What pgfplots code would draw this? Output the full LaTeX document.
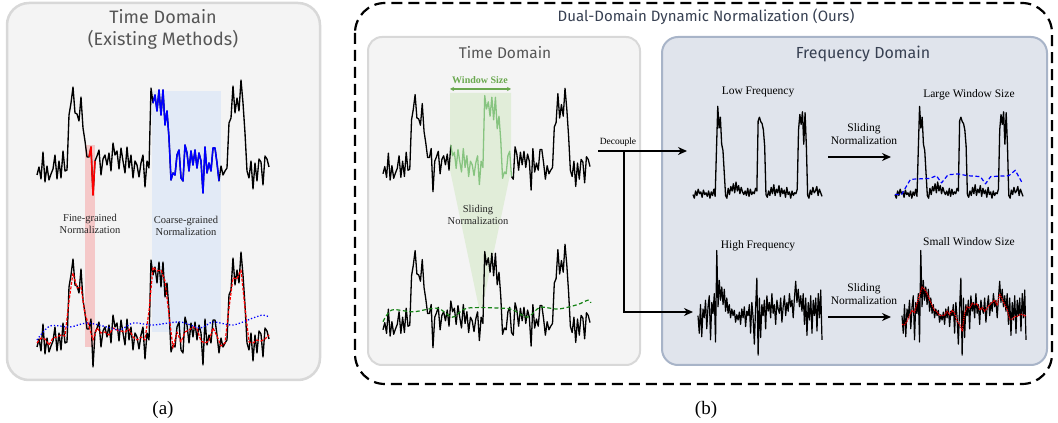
\documentclass[border=0pt]{standalone}
\usepackage{pgfplots}
\pgfplotsset{compat=1.18}
\usepackage{pgfplotstable}
\usepackage{fontspec}
\setmainfont{Liberation Serif}
\newfontfamily\titlefont{Fira Sans}
\usetikzlibrary{arrows.meta}

\definecolor{boxgray}{RGB}{244,244,244}
\definecolor{boxline}{RGB}{216,216,216}
\definecolor{freqfill}{RGB}{224,228,236}
\definecolor{freqline}{RGB}{168,180,200}
\definecolor{titlegray}{RGB}{85,85,85}
\definecolor{titledark}{RGB}{55,64,82}
\definecolor{redband}{RGB}{245,200,200}
\definecolor{blueband}{RGB}{226,234,246}
\definecolor{winfill}{RGB}{225,237,217}
\definecolor{wingreen}{RGB}{135,196,128}
\definecolor{wintext}{RGB}{106,168,79}
\definecolor{dgreen}{RGB}{20,130,20}

% time-domain signal (index, value)
\pgfplotstableread[row sep=\\]{i v\\
0 0.08\\ 1 0.16\\ 2 0.04\\ 3 0.31\\ 4 0.01\\ 5 0.17\\ 6 0.03\\ 7 0.09\\ 8 0.14\\ 9 0.28\\
10 0.04\\ 11 0.22\\ 12 0.05\\ 13 0.32\\ 14 0.12\\ 15 0.13\\ 16 0.68\\ 17 0.80\\ 18 0.96\\ 19 0.70\\
20 0.69\\ 21 0.62\\ 22 0.86\\ 23 0.55\\ 24 0.42\\ 25 0.26\\ 26 0.26\\ 27 0.36\\ 28 -0.12\\ 29 0.22\\
30 0.27\\ 31 0.33\\ 32 0.08\\ 33 0.24\\ 34 0.28\\ 35 0.18\\ 36 0.30\\ 37 0.12\\ 38 0.40\\ 39 0.28\\
40 0.32\\ 41 0.14\\ 42 0.35\\ 43 0.22\\ 44 0.10\\ 45 0.36\\ 46 0.15\\ 47 0.28\\ 48 0.05\\ 49 0.22\\
50 0.18\\ 51 0.06\\ 52 0.20\\ 53 0.28\\ 54 -0.04\\ 55 0.22\\ 56 0.15\\ 57 0.95\\ 58 0.80\\ 59 0.88\\
60 0.72\\ 61 0.93\\ 62 0.68\\ 63 0.93\\ 64 0.58\\ 65 0.72\\ 66 0.45\\ 67 0.03\\ 68 0.10\\ 69 0.08\\
70 0.28\\ 71 0.33\\ 72 0.05\\ 73 0.02\\ 74 0.38\\ 75 0.30\\ 76 0.12\\ 77 0.32\\ 78 0.18\\ 79 0.33\\
80 0.15\\ 81 0.30\\ 82 0.22\\ 83 -0.10\\ 84 0.36\\ 85 0.10\\ 86 0.20\\ 87 0.12\\ 88 0.35\\ 89 0.35\\
90 0.20\\ 91 0.02\\ 92 0.17\\ 93 0.08\\ 94 0.12\\ 95 0.15\\ 96 0.60\\ 97 0.65\\ 98 0.97\\ 99 0.70\\
100 0.85\\ 101 0.72\\ 102 1.03\\ 103 0.80\\ 104 0.50\\ 105 0.12\\ 106 0.05\\ 107 0.22\\ 108 -0.06\\ 109 0.20\\
110 0.02\\ 111 0.24\\ 112 0.21\\ 113 -0.02\\ 114 0.27\\ 115 0.24\\ 116 0.16\\
}\tsig

% fine-grained (small window) mean, panel (a)
\pgfplotstableread[row sep=\\]{i v\\
0 0.12\\ 2 0.17\\ 4 0.16\\ 6 0.10\\ 8 0.17\\ 10 0.18\\ 12 0.20\\ 14 0.19\\ 16 0.54\\ 18 0.82\\
20 0.67\\ 22 0.68\\ 24 0.41\\ 26 0.29\\ 28 0.15\\ 30 0.27\\ 32 0.22\\ 34 0.23\\ 36 0.20\\ 38 0.27\\
40 0.25\\ 42 0.24\\ 44 0.23\\ 46 0.26\\ 48 0.18\\ 50 0.15\\ 52 0.18\\ 54 0.15\\ 56 0.44\\ 58 0.88\\
60 0.84\\ 62 0.85\\ 64 0.74\\ 66 0.40\\ 68 0.07\\ 70 0.23\\ 72 0.13\\ 74 0.23\\ 76 0.25\\ 78 0.28\\
80 0.26\\ 82 0.14\\ 84 0.12\\ 86 0.14\\ 88 0.27\\ 90 0.19\\ 92 0.09\\ 94 0.12\\ 96 0.47\\ 98 0.77\\
100 0.76\\ 102 0.85\\ 104 0.47\\ 106 0.13\\ 108 0.12\\ 110 0.15\\ 112 0.14\\ 114 0.16\\ 116 0.20\\
}\tred

% coarse-grained mean, panel (a)
\pgfplotstableread[row sep=\\]{i v\\
0 0.15\\ 6.5 0.29\\ 16.5 0.28\\ 25 0.32\\ 35 0.28\\ 41.5 0.25\\ 48 0.32\\ 58 0.30\\
71.5 0.33\\ 81.5 0.27\\ 88 0.33\\ 98 0.30\\ 108 0.37\\ 113 0.40\\ 116 0.38\\
}\tblue

% sliding mean, panel (b) time domain
\pgfplotstableread[row sep=\\]{i v\\
0 0.17\\ 5 0.30\\ 17 0.28\\ 30.5 0.32\\ 39 0.22\\ 47 0.32\\ 67 0.32\\ 73 0.30\\
81 0.22\\ 88 0.33\\ 98 0.31\\ 109 0.36\\ 115 0.41\\ 116.5 0.38\\
}\tgreen

% low-frequency component
\pgfplotstableread[row sep=\\]{i v\\
0 0.06\\ 1 0.02\\ 2 0.10\\ 3 0.05\\ 4 0.12\\ 5 0.07\\ 6 0.09\\ 7 0.03\\ 8 0.11\\ 9 0.06\\
10 0.08\\ 11 0.04\\ 12 0.10\\ 13 0.02\\ 14 0.09\\ 15 0.05\\ 16 0.12\\ 17 0.04\\ 18 0.55\\ 19 1.04\\
20 0.80\\ 21 0.92\\ 22 0.62\\ 23 0.55\\ 24 0.30\\ 25 0.05\\ 26 0.02\\ 27 0.13\\ 28 0.06\\ 29 0.15\\
30 0.10\\ 31 0.18\\ 32 0.08\\ 33 0.20\\ 34 0.10\\ 35 0.16\\ 36 0.07\\ 37 0.14\\ 38 0.09\\ 39 0.06\\
40 0.10\\ 41 0.05\\ 42 0.13\\ 43 0.04\\ 44 0.12\\ 45 0.06\\ 46 0.09\\ 47 0.07\\ 48 0.13\\ 49 0.10\\
50 0.88\\ 51 0.92\\ 52 0.87\\ 53 0.85\\ 54 0.78\\ 55 0.60\\ 56 0.06\\ 57 0.03\\ 58 0.10\\ 59 0.05\\
60 0.14\\ 61 0.07\\ 62 0.17\\ 63 0.05\\ 64 0.12\\ 65 0.08\\ 66 0.16\\ 67 0.04\\ 68 0.13\\ 69 0.07\\
70 0.11\\ 71 0.03\\ 72 0.14\\ 73 0.06\\ 74 0.09\\ 75 0.02\\ 76 0.10\\ 77 0.05\\ 78 0.08\\ 79 0.07\\
80 0.12\\ 81 0.78\\ 82 0.95\\ 83 0.84\\ 84 0.98\\ 85 0.62\\ 86 0.97\\ 87 0.60\\ 88 0.05\\ 89 0.02\\
90 0.11\\ 91 0.06\\ 92 0.14\\ 93 0.08\\ 94 0.10\\ 95 0.15\\ 96 0.05\\ 97 0.12\\ 98 0.08\\ 99 0.04\\
}\tlow

% large-window mean
\pgfplotstableread[row sep=\\]{i v\\
0 0.06\\ 5 0.06\\ 12 0.23\\ 27 0.24\\ 32 0.27\\ 36 0.19\\ 41 0.28\\ 49 0.29\\
56 0.27\\ 66 0.26\\ 70 0.18\\ 74 0.26\\ 88 0.27\\ 93 0.33\\ 98 0.20\\
}\tlarge

% high-frequency component
\pgfplotstableread[row sep=\\]{i v\\
0 0.10\\ 1 -0.30\\ 2 0.35\\ 3 -0.38\\ 4 0.25\\ 5 0.05\\ 6 0.45\\ 7 -0.20\\ 8 0.30\\ 9 0.55\\
10 -0.45\\ 11 0.40\\ 12 0.15\\ 13 0.60\\ 14 -0.50\\ 15 1.58\\ 16 0.30\\ 17 0.90\\ 18 0.45\\ 19 0.75\\
20 0.35\\ 21 0.70\\ 22 0.20\\ 23 0.50\\ 24 0.15\\ 25 0.35\\ 26 0.05\\ 27 0.25\\ 28 0.10\\ 29 0.22\\
30 -0.05\\ 31 0.12\\ 32 0.00\\ 33 0.18\\ 34 -0.10\\ 35 0.25\\ 36 0.05\\ 37 0.30\\ 38 -0.15\\ 39 0.20\\
40 0.10\\ 41 0.35\\ 42 -0.30\\ 43 0.40\\ 44 0.05\\ 45 -0.55\\ 46 0.30\\ 47 0.95\\ 48 -0.80\\ 49 0.50\\
50 -0.40\\ 51 0.35\\ 52 0.10\\ 53 0.45\\ 54 -0.20\\ 55 0.55\\ 56 0.20\\ 57 0.40\\ 58 0.05\\ 59 0.60\\
60 0.15\\ 61 0.35\\ 62 -0.10\\ 63 0.45\\ 64 0.25\\ 65 0.15\\ 66 0.50\\ 67 -0.05\\ 68 0.30\\ 69 0.55\\
70 0.10\\ 71 0.40\\ 72 0.20\\ 73 0.60\\ 74 0.30\\ 75 0.45\\ 76 0.05\\ 77 0.50\\ 78 0.88\\ 79 0.40\\
80 0.70\\ 81 0.30\\ 82 0.55\\ 83 0.20\\ 84 0.60\\ 85 -0.10\\ 86 0.50\\ 87 -0.35\\ 88 0.40\\ 89 0.00\\
90 0.55\\ 91 -0.30\\ 92 0.45\\ 93 0.10\\ 94 0.50\\ 95 -0.25\\ 96 0.60\\ 97 0.05\\ 98 0.68\\ 99 -0.45\\
}\thigh

% small-window mean
\pgfplotstableread[row sep=\\]{i v\\
0 -0.10\\ 2 -0.11\\ 4 -0.03\\ 6 0.10\\ 8 0.22\\ 10 0.17\\ 12 0.38\\ 14 0.56\\ 16 0.75\\ 18 0.70\\
20 0.60\\ 22 0.47\\ 24 0.33\\ 26 0.22\\ 28 0.19\\ 30 0.10\\ 32 0.10\\ 34 0.11\\ 36 0.20\\ 38 0.12\\
40 0.22\\ 42 0.15\\ 44 -0.03\\ 46 -0.10\\ 48 -0.25\\ 50 0.15\\ 52 0.30\\ 54 0.27\\ 56 0.38\\ 58 0.35\\
60 0.37\\ 62 0.23\\ 64 0.28\\ 66 0.20\\ 68 0.27\\ 70 0.35\\ 72 0.40\\ 74 0.45\\ 76 0.33\\ 78 0.59\\
80 0.47\\ 82 0.35\\ 84 0.23\\ 86 0.02\\ 88 0.02\\ 90 0.08\\ 92 0.08\\ 94 0.12\\ 96 0.13\\ 98 0.09\\ 99 0.12\\
}\tsmall

\pgfplotsset{sigaxis/.style={hide axis, scale only axis, clip=false, anchor=south west,
  ymin=-1, ymax=2, every axis plot/.append style={line join=round}}}

\newcommand{\lbl}{\fontsize{10.5}{12.5}\selectfont}
\newcommand{\lblb}{\fontsize{11.5}{13}\selectfont}

\begin{document}
\begin{tikzpicture}[x=1pt,y=1pt]
\path[use as bounding box] (0,0) rectangle (1058,423);
\fill[white] (0,0) rectangle (1058,423);
\begin{scope}[yshift=423pt, x=1pt, y=-1pt]
  \draw[boxline, fill=boxgray, line width=2.5pt, rounded corners=22pt] (7,3) rectangle (320,380);
  \draw[black, line width=2.2pt, dash pattern=on 11pt off 6pt, rounded corners=30pt] (355,3) rectangle (1052,384);
  \draw[boxline, fill=boxgray, line width=2pt, rounded corners=14pt] (368,37) rectangle (640,365);
  \draw[freqline, fill=freqfill, line width=2pt, rounded corners=16pt] (662,37) rectangle (1047,365);
  \fill[redband] (85,145) rectangle (95,347);
  \fill[blueband] (152,91) rectangle (221,332);
  \fill[winfill] (450,93) -- (511,93) -- (511,170) -- (482,308) -- (479,308) -- (450,170) -- cycle;
\end{scope}

% (a) top
\begin{axis}[sigaxis, at={(37pt,140pt)}, width=232pt, height=300pt, xmin=0, xmax=116]
\addplot[black, line width=1.35pt] table[x=i,y=v]{\tsig};
\addplot[red, line width=1.5pt, restrict x to domain=26:29] table[x=i,y=v]{\tsig};
\addplot[blue, line width=1.5pt, restrict x to domain=58:91] table[x=i,y=v]{\tsig};
\end{axis}
% (a) bottom
\begin{axis}[sigaxis, at={(37pt,-32pt)}, width=232pt, height=300pt, xmin=0, xmax=116]
\addplot[black, line width=1.35pt] table[x=i,y=v]{\tsig};
\addplot[red, line width=1.2pt, dash pattern=on 3pt off 1.5pt] table[x=i,y=v]{\tred};
\addplot[blue, line width=1.3pt, dotted, smooth] table[x=i,y=v]{\tblue};
\end{axis}
% (b) time top
\begin{axis}[sigaxis, at={(383pt,152pt)}, width=207pt, height=270pt, xmin=0, xmax=116]
\addplot[black, line width=1.3pt, restrict x to domain=0:38] table[x=i,y=v]{\tsig};
\addplot[black, line width=1.3pt, restrict x to domain=72:116] table[x=i,y=v]{\tsig};
\addplot[wingreen, line width=1.3pt, restrict x to domain=38:72] table[x=i,y=v]{\tsig};
\end{axis}
% (b) time bottom
\begin{axis}[sigaxis, at={(383pt,-4pt)}, width=207pt, height=270pt, xmin=0, xmax=116]
\addplot[black, line width=1.3pt] table[x=i,y=v]{\tsig};
\addplot[dgreen, line width=1.2pt, dash pattern=on 4pt off 2.5pt, smooth] table[x=i,y=v]{\tgreen};
\end{axis}
% low frequency
\begin{axis}[sigaxis, at={(693pt,133pt)}, width=129pt, height=270pt, xmin=0, xmax=99]
\addplot[black, line width=1.3pt] table[x=i,y=v]{\tlow};
\end{axis}
% large window
\begin{axis}[sigaxis, at={(895pt,133pt)}, width=128pt, height=270pt, xmin=0, xmax=99]
\addplot[black, line width=1.3pt] table[x=i,y=v]{\tlow};
\addplot[blue, line width=1.2pt, dash pattern=on 4pt off 2.5pt] table[x=i,y=v]{\tlarge};
\end{axis}
% high frequency
\begin{axis}[sigaxis, at={(698pt,59pt)}, width=124pt, height=132pt, xmin=0, xmax=99]
\addplot[black, line width=1.2pt] table[x=i,y=v]{\thigh};
\end{axis}
% small window
\begin{axis}[sigaxis, at={(902pt,59pt)}, width=124pt, height=132pt, xmin=0, xmax=99]
\addplot[black, line width=1.2pt] table[x=i,y=v]{\thigh};
\addplot[red, line width=1.2pt, densely dotted] table[x=i,y=v]{\tsmall};
\end{axis}

\begin{scope}[yshift=423pt, x=1pt, y=-1pt]
  % titles
  \node[align=center, text=titlegray, font={\titlefont\fontsize{18}{22}\selectfont}] at (163,29) {Time Domain\\(Existing Methods)};
  \node[text=titledark, font={\titlefont\fontsize{15}{17}\selectfont}] at (706,17) {Dual-Domain Dynamic Normalization (Ours)};
  \node[text=titlegray, font={\titlefont\fontsize{15.5}{18}\selectfont}] at (505,53) {Time Domain};
  \node[text=titledark, font={\titlefont\fontsize{16}{18}\selectfont}] at (863,54) {Frequency Domain};
  % (a) labels
  \node[align=center, font=\lbl, text=black!85] at (90,224) {Fine-grained\\Normalization};
  \node[align=center, font=\lbl, text=black!85] at (186,226) {Coarse-grained\\Normalization};
  % (b) time labels
  \node[font={\bfseries\fontsize{10}{11}\selectfont}, text=wintext] at (480,80) {Window Size};
  \draw[wintext, line width=1.2pt, {Stealth[length=4pt,width=4pt]}-{Stealth[length=4pt,width=4pt]}] (450,89) -- (511,89);
  \node[align=center, font=\lbl, text=black!85] at (478,215) {Sliding\\Normalization};
  % decouple
  \node[font={\fontsize{9.5}{11}\selectfont}] at (618,142) {Decouple};
  \draw[line width=2pt] (598,151) -- (624,151);
  \draw[line width=2pt, -{Stealth[length=9pt,width=8pt]}] (623,151) -- (687,151);
  \draw[line width=2pt, line join=miter, -{Stealth[length=9pt,width=8pt]}] (624,151) -- (624,312) -- (693,312);
  % frequency labels
  \node[font=\lblb] at (758,92) {Low Frequency};
  \node[font=\lblb] at (969,95) {Large Window Size};
  \node[font=\lblb] at (758,246) {High Frequency};
  \node[font=\lblb] at (969,242) {Small Window Size};
  \node[align=center, font={\fontsize{11.5}{13}\selectfont}] at (864,134) {Sliding\\Normalization};
  \node[align=center, font={\fontsize{11.5}{13}\selectfont}] at (864,294) {Sliding\\Normalization};
  \draw[line width=2pt, -{Stealth[length=9pt,width=8pt]}] (828,157) -- (891,157);
  \draw[line width=2pt, -{Stealth[length=9pt,width=8pt]}] (828,317) -- (891,317);
  % panel labels
  \node[font={\fontsize{19}{22}\selectfont}] at (163,410) {(a)};
  \node[font={\fontsize{19}{22}\selectfont}] at (706,410) {(b)};
\end{scope}
\end{tikzpicture}
\end{document}
